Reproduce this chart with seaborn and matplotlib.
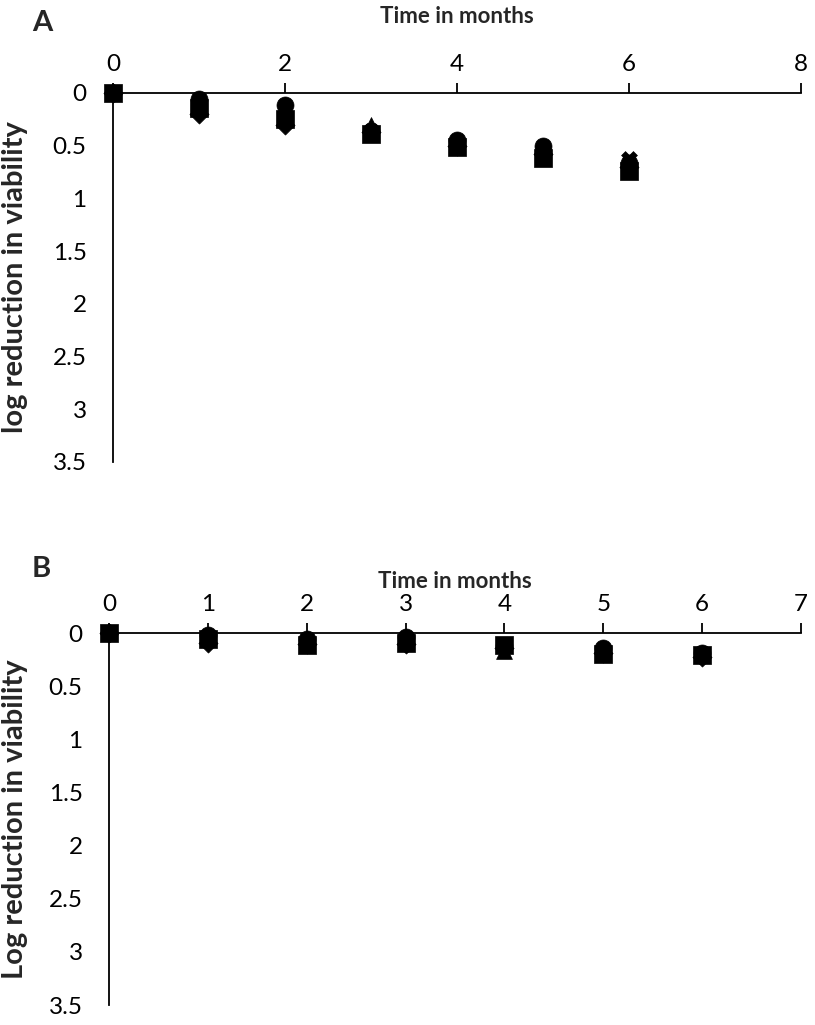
import numpy as np
import pandas as pd
import matplotlib
matplotlib.use("Agg")
import matplotlib.pyplot as plt
import seaborn as sns

# --- DATA ---
months_a = [0, 1, 2, 3, 4, 5, 6]
months_b = [0, 1, 2, 3, 4, 5, 6]
series = ["diamond", "triangle", "circle", "cross", "square"]

a_diamond = [0, 0.20, 0.30, 0.37, 0.50, 0.58, 0.70]
a_triangle = [0, 0.12, 0.22, 0.30, 0.48, 0.57, 0.68]
a_circle = [0, 0.06, 0.11, 0.36, 0.45, 0.50, 0.66]
a_cross = [0, 0.10, 0.24, 0.36, 0.48, 0.56, 0.63]
a_square = [0, 0.14, 0.25, 0.39, 0.51, 0.62, 0.74]

b_diamond = [0, 0.09, 0.10, 0.10, 0.14, 0.19, 0.23]
b_triangle = [0, 0.05, 0.09, 0.08, 0.17, 0.18, 0.20]
b_circle = [0, 0.02, 0.06, 0.04, 0.12, 0.14, 0.19]
b_cross = [0, 0.04, 0.08, 0.06, 0.13, 0.16, 0.20]
b_square = [0, 0.06, 0.11, 0.09, 0.11, 0.20, 0.21]

xticks_a = [0, 2, 4, 6, 8]
xticks_b = [0, 1, 2, 3, 4, 5, 6, 7]
yticks = [0, 0.5, 1, 1.5, 2, 2.5, 3, 3.5]
ytick_labels = ["0", "0.5", "1", "1.5", "2", "2.5", "3", "3.5"]

markers = {"diamond": "D", "triangle": "^", "circle": "o", "cross": "X", "square": "s"}
sizes = {"diamond": 95, "triangle": 130, "circle": 150, "cross": 130, "square": 150}


def long_form(months, vals):
    rows = []
    for name, v in zip(series, vals):
        for m, y in zip(months, v):
            rows.append({"month": m, "value": y, "series": name})
    return pd.DataFrame(rows)


df_a = long_form(months_a, [a_diamond, a_triangle, a_circle, a_cross, a_square])
df_b = long_form(months_b, [b_diamond, b_triangle, b_circle, b_cross, b_square])

sns.set_style("white")
plt.rcParams["font.family"] = ["Lato", "DejaVu Sans"]

fig = plt.figure(figsize=(8.15, 10.25), dpi=100)
ax_a = fig.add_axes([0.1387, 0.5493, 0.8441, 0.3600])
ax_b = fig.add_axes([0.1337, 0.0195, 0.8491, 0.3629])


def style_axis(ax, df, xmax, xticks, ylabel, ylab_x, xlab_y):
    for name in series:
        sub = df[df["series"] == name]
        sns.scatterplot(data=sub, x="month", y="value", marker=markers[name],
                        s=sizes[name], color="black", edgecolor="black",
                        linewidth=0.5, ax=ax, legend=False, clip_on=False, zorder=3)
    ax.set_xlim(0, xmax)
    ax.set_ylim(3.5, 0)
    ax.set_xticks(xticks)
    ax.set_yticks(yticks)
    ax.set_yticklabels(ytick_labels)
    ax.xaxis.tick_top()
    ax.xaxis.set_label_position("top")
    for side in ["right", "bottom"]:
        ax.spines[side].set_visible(False)
    for side in ["top", "left"]:
        ax.spines[side].set_linewidth(1.3)
        ax.spines[side].set_color("black")
    ax.tick_params(axis="both", direction="out", length=7, width=1.3,
                   labelsize=17.5, colors="black")
    ax.tick_params(axis="x", pad=6)
    ax.tick_params(axis="y", pad=12)
    ax.set_xlabel("Time in months", fontsize=16, fontweight="bold")
    ax.set_ylabel(ylabel, fontsize=21, fontweight="bold")
    ax.yaxis.set_label_coords(ylab_x, 0.5)
    ax.xaxis.set_label_coords(0.5, xlab_y)


style_axis(ax_a, df_a, 8, xticks_a, "log reduction in viability", -0.1235, 1.19)
style_axis(ax_b, df_b, 7, xticks_b, "Log reduction in viability", -0.117, 1.12)

fig.text(0.039, 0.9776, "A", fontsize=21, fontweight="bold", va="center")
fig.text(0.039, 0.4449, "B", fontsize=21, fontweight="bold", va="center")

fig.savefig("out.png", dpi=100)
